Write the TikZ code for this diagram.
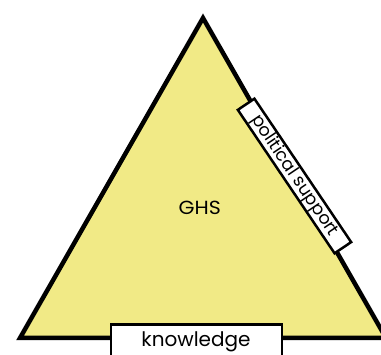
\documentclass[tikz,border=0pt]{standalone}
\usepackage{fontspec}
\setmainfont{Poppins}
\definecolor{triyellow}{RGB}{241,234,134}
\begin{document}
\begin{tikzpicture}[x=1pt,y=-1pt,
  labelbox/.style={draw=black,fill=white,line width=2.5pt,inner sep=0pt,align=center}]
\useasboundingbox (0,0) rectangle (381,355);
\clip (0,0) rectangle (381,355);
\coordinate (apex) at (203,18);
\coordinate (bl) at (20,338);
\coordinate (br) at (386,338);
\draw[fill=triyellow,line width=4.5pt,line join=miter] (apex) -- (bl) -- (br) -- cycle;
\node[xscale=1.08] (ghs) at (199.7,207.7) {\fontsize{19}{22}\selectfont GHS};
\node[labelbox,minimum width=171pt,minimum height=50pt,anchor=north] (know) at (196.5,323.5) {};
\node[anchor=base] (knowtext) at (196,347) {\fontsize{20}{22}\selectfont knowledge};
\node[labelbox,minimum width=173pt,minimum height=20pt,rotate=-56] (pol) at (294.5,176) {\fontsize{17.5}{18}\selectfont political support};
\end{tikzpicture}
\end{document}
